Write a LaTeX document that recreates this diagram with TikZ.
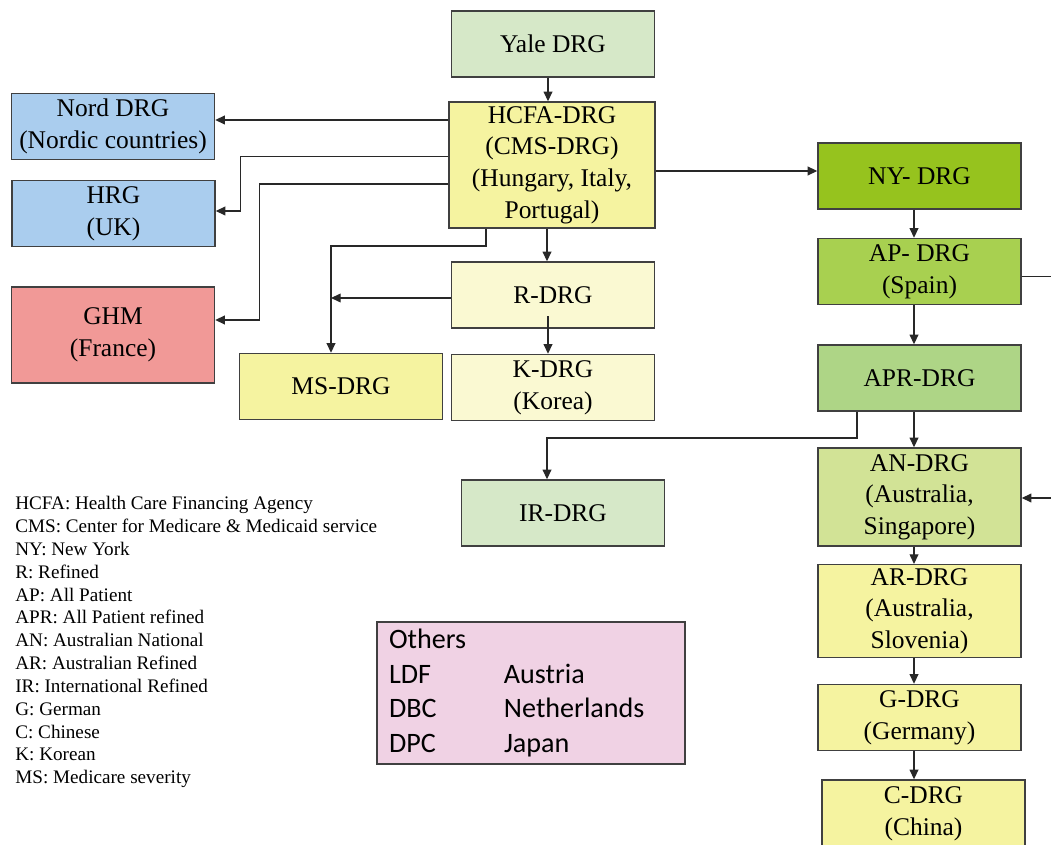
\documentclass[tikz,border=0pt]{standalone}
\usepackage{fontspec}
\setmainfont{Liberation Serif}
\newfontfamily\carlito{Carlito}
\usepackage{tikz}
\usetikzlibrary{arrows.meta, positioning, calc}
\definecolor{boxline}{RGB}{64, 64, 64}
\definecolor{linegray}{RGB}{40, 40, 40}
\definecolor{yalegreen}{RGB}{214, 232, 200}
\definecolor{hcfayellow}{RGB}{245, 243, 160}
\definecolor{paleyellow}{RGB}{250, 249, 210}
\definecolor{nordblue}{RGB}{170, 205, 238}
\definecolor{ghmred}{RGB}{241, 153, 151}
\definecolor{nygreen}{RGB}{150, 195, 30}
\definecolor{apgreen}{RGB}{168, 208, 80}
\definecolor{aprgreen}{RGB}{174, 213, 134}
\definecolor{angreen}{RGB}{210, 227, 150}
\definecolor{otherspink}{RGB}{240, 210, 228}
\tikzset{
  drgbox/.style={draw=boxline, line width=0.8pt, minimum width=4.06cm, minimum height=1.32cm,
    align=center, inner sep=2pt, font=\fontsize{14.5}{18}\selectfont},
  conn/.style={-{Triangle[length=5.5pt, width=5pt]}, line width=0.7pt, draw=linegray},
  plainline/.style={line width=0.7pt, draw=linegray}
}

\begin{document}
\begin{tikzpicture}
  \useasboundingbox (0,0) rectangle (21.02,-16.9);

  % Main line
  \node[drgbox, fill=yalegreen] (yale) at (11.06, -0.88) {Yale DRG};
  \node[drgbox, fill=hcfayellow, minimum width=4.12cm, minimum height=2.52cm] (hcfa) at (11.04, -3.30)
    {HCFA-DRG\\(CMS-DRG)\\(Hungary, Italy,\\Portugal)};
  \node[drgbox, fill=paleyellow] (rdrg) at (11.06, -5.90) {R-DRG};
  \node[drgbox, fill=paleyellow] (kdrg) at (11.06, -7.75) {K-DRG\\(Korea)};
  \node[drgbox, fill=hcfayellow] (msdrg) at (6.82, -7.73) {MS-DRG};
  \node[drgbox, fill=yalegreen] (irdrg) at (11.26, -10.26) {IR-DRG};

  % Europe
  \node[drgbox, fill=nordblue] (nord) at (2.26, -2.53) {Nord DRG\\(Nordic countries)};
  \node[drgbox, fill=nordblue] (hrg) at (2.27, -4.27) {HRG\\(UK)};
  \node[drgbox, fill=ghmred, minimum height=1.92cm] (ghm) at (2.26, -6.70) {GHM\\(France)};

  % New York line
  \node[drgbox, fill=nygreen] (nydrg) at (18.39, -3.52) {NY- DRG};
  \node[drgbox, fill=apgreen] (apdrg) at (18.39, -5.43) {AP- DRG\\(Spain)};
  \node[drgbox, fill=aprgreen] (aprdrg) at (18.39, -7.56) {APR-DRG};
  \node[drgbox, fill=angreen, minimum height=1.96cm] (andrg) at (18.39, -9.94) {AN-DRG\\(Australia,\\Singapore)};
  \node[drgbox, fill=hcfayellow, minimum height=1.8cm] (ardrg) at (18.39, -12.22) {AR-DRG\\(Australia,\\Slovenia)};
  \node[drgbox, fill=hcfayellow] (gdrg) at (18.39, -14.35) {G-DRG\\(Germany)};
  \node[drgbox, fill=hcfayellow, minimum height=1.8cm, text depth=0.55cm] (cdrg) at (18.47, -16.5) {C-DRG\\(China)};

  % Arrows
  \draw[conn] ([xshift=-0.1cm]yale.south) -- ([xshift=-0.1cm]yale.south |- hcfa.north);
  \draw[conn] ([xshift=-0.1cm]hcfa.south) -- ([xshift=-0.1cm]hcfa.south |- rdrg.north);
  \draw[conn] ([xshift=-0.1cm, yshift=0.25cm]rdrg.south) -- ([xshift=-0.1cm]rdrg.south |- kdrg.north);
  \draw[conn] ([yshift=0.9cm]hcfa.west) -- ([yshift=0.9cm]hcfa.west -| nord.east);
  \draw[conn] ([yshift=0.17cm]hcfa.west) -| ([xshift=0.5cm, yshift=0.05cm]hrg.east) -- ([yshift=0.05cm]hrg.east);
  \draw[conn] ([yshift=-0.38cm]hcfa.west) -| ([xshift=0.88cm, yshift=0.3cm]ghm.east) -- ([yshift=0.3cm]ghm.east);
  \coordinate (msbend) at (6.62, -4.92);
  \draw[conn] ([xshift=-1.32cm]hcfa.south) |- (msbend) -- (msbend |- msdrg.north);
  \draw[conn] ([yshift=-0.06cm]rdrg.west) -- ([yshift=-0.06cm]rdrg.west -| msbend);
  \draw[conn] ([yshift=0.1cm]nydrg.west -| hcfa.east) -- ([yshift=0.1cm]nydrg.west);
  \foreach \a/\b in {nydrg/apdrg, apdrg/aprdrg, aprdrg/andrg, andrg/ardrg, ardrg/gdrg, gdrg/cdrg}
    \draw[conn] ([xshift=-0.11cm]\a.south) -- ([xshift=-0.11cm]\a.south |- \b.north);
  \coordinate (irbend) at (10.94, -8.76);
  \draw[conn] ([xshift=-1.25cm]aprdrg.south) |- (irbend) -- (irbend |- irdrg.north);
  \coordinate (apout) at (21.2, -5.53);
  \draw[plainline] ([yshift=-0.1cm]apdrg.east) -- (apout);
  \coordinate (anin) at (21.2, -9.96);
  \draw[conn] (anin) -- (anin -| andrg.east);

  % Abbreviations
  \node[anchor=north west, align=left, inner sep=0pt, font=\fontsize{10.9}{13}\selectfont] (legend) at (0.30, -9.92) {
    HCFA: Health Care Financing Agency\\
    CMS: Center for Medicare \& Medicaid service\\
    NY: New York\\
    R: Refined\\
    AP: All Patient\\
    APR: All Patient refined\\
    AN: Australian National\\
    AR: Australian Refined\\
    IR: International Refined\\
    G: German\\
    C: Chinese\\
    K: Korean\\
    MS: Medicare severity
  };

  % Others
  \node[draw=boxline, line width=0.8pt, fill=otherspink, minimum width=6.16cm, minimum height=2.84cm,
    text width=5.68cm, inner xsep=0.24cm, align=left, font=\carlito\fontsize{16}{19.7}\selectfont] (others) at (10.62, -13.86) {
    Others\\
    \makebox[2.3cm][l]{LDF}Austria\\
    \makebox[2.3cm][l]{DBC}Netherlands\\
    \makebox[2.3cm][l]{DPC}Japan
  };
\end{tikzpicture}
\end{document}
